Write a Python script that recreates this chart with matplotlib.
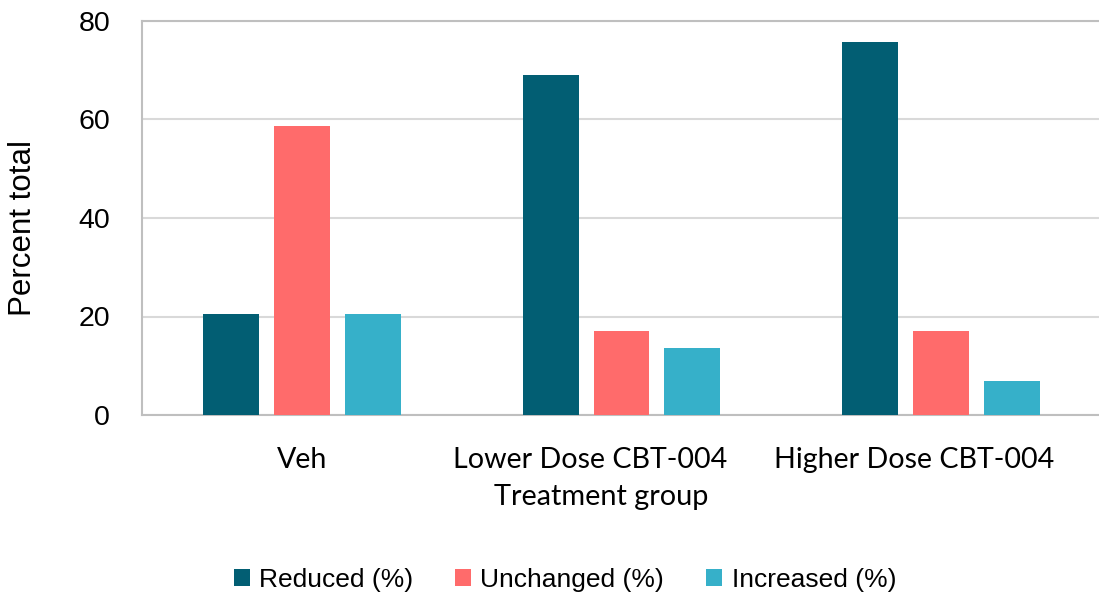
import matplotlib
matplotlib.use("Agg")
import matplotlib.pyplot as plt
import matplotlib.transforms as mtransforms
import numpy as np

categories = ["Veh", "Lower Dose CBT-004", "Higher Dose CBT-004"]
series_names = ["Reduced (%)", "Unchanged (%)", "Increased (%)"]
reduced = [20.6, 69.0, 75.8]
unchanged = [58.6, 17.1, 17.1]
increased = [20.6, 13.6, 6.9]
yticks = [0, 20, 40, 60, 80]

colors = ["#025E73", "#FF6B6B", "#36B0C9"]

fig = plt.figure(figsize=(10.99, 5.94), dpi=100)
ax = fig.add_axes([142/1099, 1 - 415/594, 959/1099, 394/594])

x = np.arange(len(categories))
width = 0.175
step = 0.222
for i, (vals, name, c) in enumerate(zip([reduced, unchanged, increased], series_names, colors)):
    ax.bar(x + (i - 1) * step, vals, width, color=c, label=name, zorder=3)

ax.set_xlim(-0.5, 2.5)
ax.set_ylim(0, 80)
ax.set_yticks(yticks)
ax.set_yticklabels([str(t) for t in yticks], fontsize=20.5, family=["Liberation Sans", "DejaVu Sans"])
ax.set_xticks(x)
ax.set_xticklabels(categories, fontsize=20.6, family=["Lato", "DejaVu Sans"])
ax.tick_params(axis="y", length=0, pad=23)
ax.tick_params(axis="x", length=0, pad=23)
# shift labels like the reference (Excel kept them inside visible area)
shifts_px = [0, -31, -27]
for lab, dx in zip(ax.get_xticklabels(), shifts_px):
    lab.set_transform(lab.get_transform() + mtransforms.ScaledTranslation(dx / 100, 0, fig.dpi_scale_trans))
ax.grid(axis="y", color="#D9D9D9", linewidth=1.5, zorder=0)
for s in ["left", "top", "bottom", "right"]:
    ax.spines[s].set_color("#BFBFBF")
    ax.spines[s].set_linewidth(1.5)

fig.text(601/1099, 1 - 497/594, "Treatment group", ha="center", va="center",
         fontsize=20.8, family=["Lato", "DejaVu Sans"])
fig.text(23/1099, 1 - 228/594, "Percent total", ha="center", va="center", rotation=90,
         fontsize=22.5, family=["Liberation Sans", "DejaVu Sans"])

leg = fig.legend(loc="center", bbox_to_anchor=(565/1099, 1 - 580/594), ncol=3, frameon=False,
                 prop={"family": ["Liberation Sans", "DejaVu Sans"], "size": 19},
                 handlelength=0.6, handleheight=0.6, handletextpad=0.35, columnspacing=1.6)

fig.savefig("out.png", dpi=100)
